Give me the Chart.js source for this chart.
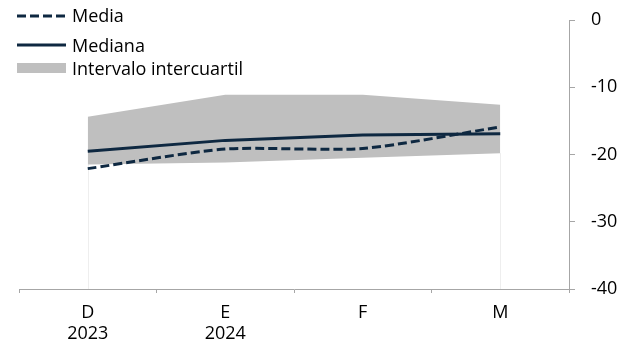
<!DOCTYPE html>
<html>
<head>
<meta charset="utf-8">
<script src="https://cdn.jsdelivr.net/npm/chart.js@4.4.1/dist/chart.umd.min.js"></script>
<style>
  html, body { margin: 0; padding: 0; background: #ffffff; }
  #wrap { position: relative; width: 633px; height: 348px; }
  canvas { position: absolute; left: 0; top: 0; }
  .leg { position: absolute; left: 17px; height: 20px; line-height: 20px; font-family: "Open Sans", sans-serif; font-size: 18px; color: #000; display: flex; align-items: center; white-space: nowrap; }
  .leg svg { margin-right: 6px; display: block; }
</style>
</head>
<body>
<div id="wrap">
  <canvas id="c" width="633" height="348"></canvas>
  <div class="leg" style="top:5px;"><svg width="49" height="20"><line x1="0" y1="11" x2="49" y2="11" stroke="#0e2841" stroke-width="3" stroke-dasharray="9,4"/></svg>Media</div>
  <div class="leg" style="top:35px;"><svg width="49" height="20"><line x1="0" y1="10" x2="49" y2="10" stroke="#0e2841" stroke-width="3"/></svg>Mediana</div>
  <div class="leg" style="top:58px;"><svg width="49" height="20"><rect x="0" y="5" width="49" height="10" fill="#bfbfbf"/></svg>Intervalo intercuartil</div>
</div>
<script>
const months = ['D', 'E', 'F', 'M'];
const years = ['2023', '2024', '', ''];
const media = [-22.1, -19.2, -19.1, -15.9];
const mediana = [-19.5, -17.9, -17.1, -16.9];
const q3 = [-14.4, -11.1, -11.1, -12.6];
const q1 = [-21.5, -21.2, -20.5, -19.8];
const yTicks = [0, -10, -20, -30, -40];

const labels = months.map((m, i) => [m, years[i]]);
const navy = '#0e2841';
const font = { family: '"Open Sans", sans-serif', size: 18, lineHeight: 1.15 };

const edgePlugin = {
  id: 'edges',
  beforeDatasetsDraw(chart) {
    const {ctx, scales: {x, y}} = chart;
    ctx.save();
    ctx.strokeStyle = '#eeeeee';
    ctx.lineWidth = 1;
    [0, months.length - 1].forEach(i => {
      const px = Math.round(x.getPixelForValue(i)) + 0.5;
      ctx.beginPath();
      ctx.moveTo(px, y.getPixelForValue(q1[i]));
      ctx.lineTo(px, y.getPixelForValue(-40));
      ctx.stroke();
    });
    ctx.restore();
  }
};

new Chart(document.getElementById('c'), {
  type: 'line',
  data: {
    labels: labels,
    datasets: [
      { label: 'Media', data: media, borderColor: navy, borderWidth: 3, borderDash: [9, 4], tension: 0.25, pointRadius: 0, fill: false, order: 0 },
      { label: 'Mediana', data: mediana, borderColor: navy, borderWidth: 3, tension: 0, pointRadius: 0, fill: false, order: 1 },
      { label: 'Q3', data: q3, borderWidth: 0, borderColor: 'rgba(0,0,0,0)', backgroundColor: '#bfbfbf', pointRadius: 0, fill: 3, order: 2 },
      { label: 'Q1', data: q1, borderWidth: 0, borderColor: 'rgba(0,0,0,0)', pointRadius: 0, fill: false, order: 3 }
    ]
  },
  options: {
    responsive: false,
    animation: false,
    events: [],
    layout: { padding: { left: 19, top: 20, right: 0, bottom: 0 } },
    plugins: { legend: { display: false }, tooltip: { enabled: false } },
    scales: {
      x: {
        offset: true,
        grid: { offset: true, drawOnChartArea: false, tickLength: 4, color: '#a6a6a6' },
        border: { color: '#a6a6a6', width: 1 },
        ticks: { color: '#000', font: font, padding: 10, maxRotation: 0, autoSkip: false },
        afterFit(s) { s.height = 59; s.paddingLeft = 0; s.paddingRight = 0; }
      },
      y: {
        position: 'right',
        min: -40, max: 0,
        afterBuildTicks(s) { s.ticks = yTicks.map(v => ({ value: v })); },
        grid: { drawOnChartArea: false, tickLength: 6, color: '#a6a6a6' },
        border: { color: '#a6a6a6', width: 1 },
        ticks: { color: '#000', font: font, padding: 16 },
        afterFit(s) { s.width = 64; s.paddingTop = 0; s.paddingBottom = 0; }
      }
    }
  },
  plugins: [edgePlugin]
});
</script>
</body>
</html>
